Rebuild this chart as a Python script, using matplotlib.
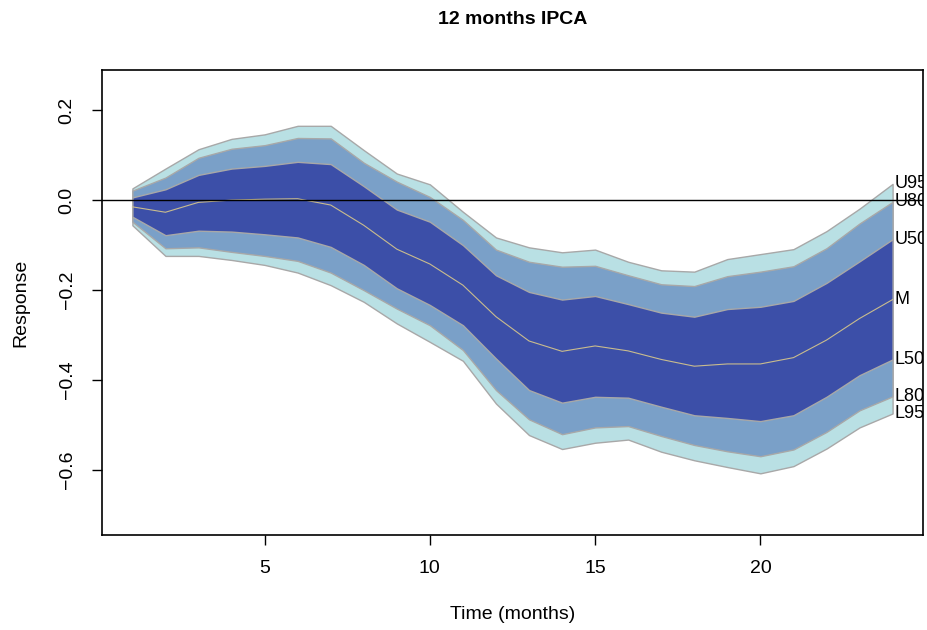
import matplotlib
matplotlib.use("Agg")
import matplotlib.pyplot as plt
import numpy as np

# impulse response of 12-month IPCA, fan of credible bands
months = np.arange(1, 25)
u95 = [0.026, 0.070, 0.113, 0.136, 0.146, 0.165, 0.165, 0.111, 0.059, 0.035,
       -0.026, -0.083, -0.105, -0.116, -0.110, -0.137, -0.156, -0.159, -0.131, -0.120,
       -0.109, -0.069, -0.019, 0.036]
u80 = [0.021, 0.050, 0.094, 0.114, 0.122, 0.138, 0.137, 0.083, 0.041, 0.007,
       -0.044, -0.110, -0.137, -0.148, -0.146, -0.167, -0.187, -0.191, -0.169, -0.159,
       -0.147, -0.107, -0.052, -0.004]
u50 = [0.006, 0.024, 0.056, 0.070, 0.076, 0.085, 0.080, 0.031, -0.021, -0.048,
       -0.100, -0.167, -0.204, -0.221, -0.213, -0.231, -0.250, -0.259, -0.242, -0.237,
       -0.224, -0.184, -0.136, -0.087]
median = [-0.015, -0.027, -0.005, 0.000, 0.002, 0.003, -0.011, -0.056, -0.109, -0.142,
          -0.189, -0.259, -0.313, -0.336, -0.324, -0.335, -0.354, -0.369, -0.364, -0.364,
          -0.350, -0.311, -0.263, -0.221]
l50 = [-0.037, -0.078, -0.068, -0.070, -0.076, -0.083, -0.104, -0.144, -0.196, -0.233,
       -0.278, -0.352, -0.422, -0.450, -0.437, -0.439, -0.459, -0.478, -0.484, -0.491,
       -0.478, -0.437, -0.389, -0.354]
l80 = [-0.048, -0.107, -0.105, -0.115, -0.124, -0.135, -0.161, -0.200, -0.241, -0.278,
       -0.333, -0.422, -0.487, -0.520, -0.505, -0.502, -0.524, -0.544, -0.558, -0.569,
       -0.554, -0.515, -0.467, -0.436]
l95 = [-0.056, -0.124, -0.124, -0.133, -0.144, -0.161, -0.189, -0.226, -0.274, -0.315,
       -0.357, -0.452, -0.522, -0.553, -0.539, -0.532, -0.559, -0.578, -0.593, -0.607,
       -0.591, -0.552, -0.505, -0.474]

plt.rcParams['font.family'] = ['Liberation Sans', 'DejaVu Sans']

fig = plt.figure(figsize=(9.28, 6.30), dpi=100)
ax = fig.add_axes([102 / 928, 1 - 535 / 630, (923 - 102) / 928, (535 - 70) / 630])

edge = '#A8A8A8'
ax.fill_between(months, l95, u95, facecolor='#B9E0E4', edgecolor=edge, linewidth=1.0, zorder=1)
ax.fill_between(months, l80, u80, facecolor='#7AA0C8', edgecolor=edge, linewidth=1.0, zorder=2)
ax.fill_between(months, l50, u50, facecolor='#3C4FA8', edgecolor=edge, linewidth=1.0, zorder=3)
ax.plot(months, median, color='#C9BC8E', linewidth=0.8, zorder=4)
ax.axhline(0, color='black', linewidth=1.0, zorder=5)

# band labels at the last horizon
bands = [('U95', u95), ('U80', u80), ('U50', u50), ('M', median),
         ('L50', l50), ('L80', l80), ('L95', l95)]
for name, vals in bands:
    ax.text(months[-1] + 0.05, vals[-1], name, ha='left', va='center',
            fontsize=13, clip_on=True, zorder=6)

ax.set_xlim(0.08, 24.92)
ax.set_ylim(-0.744, 0.289)
ax.set_xticks([5, 10, 15, 20])
ax.set_yticks([-0.6, -0.4, -0.2, 0.0, 0.2])
ax.set_yticklabels(['\u22120.6', '\u22120.4', '\u22120.2', '0.0', '0.2'],
                   rotation=90, va='center')
ax.tick_params(axis='both', direction='out', length=7, width=1.0,
               labelsize=14, top=False, right=False)
ax.tick_params(axis='x', pad=11)
ax.tick_params(axis='y', pad=12)
for sp in ax.spines.values():
    sp.set_linewidth(1.2)

ax.set_xlabel('Time (months)', fontsize=14, labelpad=21)
ax.set_ylabel('Response', fontsize=14, labelpad=21)
# title centred over the plotting region
fig.text((102 + 923) / 2 / 928, 1 - 20 / 630, '12 months IPCA', ha='center', va='center',
         fontsize=14, fontweight='bold')

fig.savefig('out.png', dpi=100)
